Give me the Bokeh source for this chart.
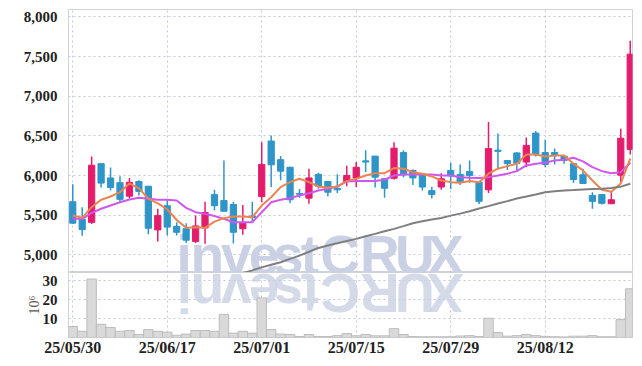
import numpy as np
from bokeh.plotting import figure
from bokeh.models import Range1d, FixedTicker, NumeralTickFormatter, ColumnDataSource
from bokeh.core.properties import value
from bokeh.layouts import column
from bokeh.embed import file_html
from bokeh.resources import INLINE

# ---------------- data ----------------
dates = ["25/05/30", "25/06/02", "25/06/04", "25/06/05", "25/06/09", "25/06/10",
         "25/06/11", "25/06/12", "25/06/13", "25/06/16", "25/06/17", "25/06/18",
         "25/06/19", "25/06/20", "25/06/23", "25/06/24", "25/06/25", "25/06/26",
         "25/06/27", "25/06/30", "25/07/01", "25/07/02", "25/07/03", "25/07/04",
         "25/07/07", "25/07/08", "25/07/09", "25/07/10", "25/07/11", "25/07/14",
         "25/07/15", "25/07/16", "25/07/17", "25/07/18", "25/07/21", "25/07/22",
         "25/07/23", "25/07/24", "25/07/25", "25/07/28", "25/07/29", "25/07/30",
         "25/07/31", "25/08/01", "25/08/04", "25/08/05", "25/08/06", "25/08/07",
         "25/08/08", "25/08/11", "25/08/12", "25/08/13", "25/08/14", "25/08/18",
         "25/08/19", "25/08/20", "25/08/21", "25/08/22", "25/08/25", "25/08/26"]

opens = [5670, 5450, 5410, 6150, 5970, 5910, 5740, 5925, 5865, 5315,
         5620, 5360, 5330, 5170, 5340, 5760, 5685, 5635, 5330, 5490,
         5735, 6435, 6200, 6105, 5775, 5715, 6015, 5925, 5840, 5925,
         5970, 6185, 6245, 5960, 5965, 6290, 6065, 6000, 5810, 5855,
         6065, 6015, 6050, 5915, 5820, 6320, 6190, 6285, 6170, 6535,
         6290, 6290, 6245, 6150, 6010, 5750, 5760, 5645, 6005, 6330]
highs = [5890, 5600, 6240, 6150, 6100, 5990, 5970, 5940, 5870, 5580,
         5690, 5410, 5400, 5495, 5670, 5820, 6190, 5670, 5630, 5670,
         6420, 6505, 6245, 6110, 5830, 6085, 6035, 5930, 6015, 6125,
         6170, 6320, 6245, 5965, 6420, 6320, 6075, 6005, 5860, 6030,
         6160, 6140, 6190, 5920, 6675, 6530, 6195, 6295, 6480, 6560,
         6450, 6340, 6250, 6155, 6085, 5790, 5765, 5800, 6590, 7700]
lows = [5390, 5240, 5390, 5850, 5810, 5665, 5710, 5750, 5260, 5170,
        5245, 5245, 5150, 5150, 5140, 5560, 5550, 5145, 5255, 5410,
        5665, 5855, 5940, 5655, 5720, 5645, 5835, 5735, 5780, 5865,
        5855, 6045, 5850, 5720, 5950, 5980, 5880, 5810, 5710, 5820,
        5830, 5880, 5910, 5640, 5780, 6095, 6070, 6045, 6105, 6240,
        6105, 6140, 6150, 5910, 5900, 5580, 5635, 5645, 5915, 6265]
closes = [5400, 5320, 6130, 5905, 5850, 5700, 5915, 5800, 5335, 5495,
          5350, 5285, 5185, 5365, 5535, 5620, 5550, 5285, 5400, 5470,
          6140, 6135, 6055, 5695, 5765, 5970, 5865, 5790, 5820, 6000,
          6105, 6170, 5980, 5840, 6345, 6010, 5970, 5855, 5760, 5960,
          5995, 5915, 6000, 5675, 6340, 6305, 6150, 6155, 6380, 6260,
          6140, 6265, 6190, 5950, 5900, 5675, 5650, 5695, 6470, 7530]

volume_mil = [5.8, 3.3, 31.0, 7.0, 5.3, 3.3, 3.7, 1.6, 4.2, 3.3,
              2.8, 1.2, 1.8, 3.7, 3.7, 3.3, 12.3, 2.3, 3.3, 2.3,
              21.0, 4.2, 1.8, 1.6, 0.5, 1.6, 0.5, 0.5, 1.0, 2.1,
              0.9, 1.6, 0.9, 0.9, 4.7, 1.6, 0.5, 0.4, 0.4, 0.4,
              0.4, 0.8, 1.0, 0.5, 10.2, 2.6, 0.7, 1.0, 1.6, 1.0,
              0.6, 0.4, 0.3, 0.7, 0.7, 1.0, 0.4, 0.4, 9.5, 25.8]

ma_short = [5496, 5467, 5601, 5694, 5736, 5790, 5900, 5838, 5710, 5648,
            5575, 5440, 5341, 5349, 5341, 5420, 5463, 5484, 5484, 5475,
            5622, 5727, 5854, 5917, 5960, 5917, 5862, 5846, 5862, 5930,
            5960, 6001, 6030, 6030, 6094, 6086, 6043, 6023, 5989, 5938,
            5917, 5909, 5930, 5917, 6023, 6086, 6119, 6149, 6266, 6266,
            6241, 6254, 6254, 6149, 6065, 5938, 5821, 5795, 5900, 6215]
ma_mid = [5454, 5454, 5530, 5581, 5622, 5664, 5698, 5720, 5707, 5694,
          5694, 5686, 5593, 5538, 5517, 5490, 5454, 5412, 5412, 5412,
          5538, 5664, 5694, 5715, 5749, 5778, 5812, 5833, 5862, 5926,
          5930, 5930, 5930, 5947, 6001, 6014, 6014, 6014, 6014, 6001,
          6001, 5980, 5972, 5968, 5980, 6001, 6023, 6056, 6128, 6149,
          6162, 6191, 6199, 6225, 6178, 6106, 6056, 6030, 6043, 6162]
ma_long_first = 16
ma_long = [4700, 4735, 4770, 4805, 4843, 4875, 4907, 4950, 4991, 5040,
           5088, 5118, 5147, 5175, 5202, 5234, 5265, 5297, 5328, 5363,
           5399, 5425, 5445, 5465, 5495, 5520, 5550, 5585, 5615, 5648,
           5678, 5710, 5735, 5762, 5790, 5802, 5812, 5818, 5825, 5829,
           5833, 5843, 5860, 5896]

price_ticks = [5000, 5500, 6000, 6500, 7000, 7500, 8000]
volume_ticks = [10, 20, 30]
date_tick_idx = [0, 10, 20, 30, 40, 50]
volume_unit_label = "10\u2076"
watermark = "investCRUX"

# ---------------- styles ----------------
UP = "#e31c6c"
DOWN = "#2f95c8"
GRID = "#c3c8da"
BORDER = "#cfd2db"
LABEL = "#222222"
FONT = "Liberation Sans Narrow"
WM = "#cbd1e4"

idx = np.arange(len(closes))
o = np.array(opens); c = np.array(closes)
colors = [UP if cc >= oo else DOWN for oo, cc in zip(o, c)]
body_top = np.maximum(o, c)
body_bot = np.minimum(o, c)

xr = Range1d(-0.45, 59.24)

def style(fig):
    fig.outline_line_color = BORDER
    fig.outline_line_width = 1
    fig.xgrid.ticker = FixedTicker(ticks=date_tick_idx)
    for g in (fig.xgrid, fig.ygrid):
        g.grid_line_color = GRID
        g.grid_line_dash = "2 3"
        g.grid_line_width = 1
    for ax in fig.yaxis:
        ax.axis_line_color = None
        ax.major_tick_line_color = None
        ax.minor_tick_line_color = None
        ax.major_label_text_font = FONT
        ax.major_label_text_font_style = "bold"
        ax.major_label_text_font_size = "15px"
        ax.major_label_text_color = LABEL
        ax.major_label_standoff = 5

p = figure(width=642, height=272, x_range=xr, y_range=Range1d(4778, 8093),
           output_backend="svg", toolbar_location=None, tools="",
           min_border_left=68, min_border_right=10, min_border_top=9, min_border_bottom=0)
style(p)
p.xaxis.visible = False
p.yaxis.ticker = FixedTicker(ticks=price_ticks)
p.yaxis.formatter = NumeralTickFormatter(format="0,0")

# watermark (upright), drawn first so the data sits on top of it
wm_x = [11.8, 14.25, 17.3, 20.25, 22.8, 25.1, 28.3, 32.5, 36.2, 39.45]
wm_src = ColumnDataSource(dict(x=wm_x, y=[5000] * len(wm_x), t=list(watermark)))
p.text(x="x", y="y", text="t", source=wm_src, text_align="center", text_baseline="middle",
       text_font=value("Liberation Sans"), text_font_style="bold", text_font_size="55px",
       text_color=WM)

p.segment(idx, lows, idx, highs, color=colors, line_width=1.5)
p.vbar(x=idx, top=body_top, bottom=body_bot, width=0.66, fill_color=colors, line_color=colors, line_width=1)
p.line(idx, ma_mid, line_color="#cf57ee", line_width=2)
p.line(idx, ma_short, line_color="#ec8450", line_width=2)
p.line(np.arange(ma_long_first, ma_long_first + len(ma_long)), ma_long, line_color="#7f7f7f", line_width=2)

v = figure(width=642, height=94, x_range=xr, y_range=Range1d(0, 34.45),
           output_backend="svg", toolbar_location=None, tools="",
           min_border_left=68, min_border_right=10, min_border_top=0, min_border_bottom=29)
style(v)
v.yaxis.ticker = FixedTicker(ticks=volume_ticks)
v.yaxis.axis_label = volume_unit_label
v.yaxis.axis_label_text_font = "Liberation Serif"
v.yaxis.axis_label_text_font_style = "normal"
v.yaxis.axis_label_text_font_size = "14px"
v.yaxis.axis_label_text_color = "#555555"
v.yaxis.axis_label_standoff = -2
v.xaxis.ticker = FixedTicker(ticks=date_tick_idx)
v.xaxis.major_label_overrides = {i: dates[i] for i in date_tick_idx}
v.xaxis.axis_line_color = None
v.xaxis.major_tick_line_color = None
v.xaxis.minor_tick_line_color = None
v.xaxis.major_label_text_font = FONT
v.xaxis.major_label_text_font_style = "bold"
v.xaxis.major_label_text_font_size = "16px"
v.xaxis.major_label_text_color = LABEL
v.xaxis.major_label_standoff = -5

# watermark reflection, one glyph per letter turned upside down
wm_src2 = ColumnDataSource(dict(x=wm_x, y=[23.4] * len(wm_x), t=list(watermark)))
v.text(x="x", y="y", text="t", source=wm_src2, angle=np.pi, text_align="center",
       text_baseline="middle", text_font=value("Liberation Sans"), text_font_style="bold",
       text_font_size="55px", text_color=WM, text_alpha=0.8)

v.vbar(x=idx, top=volume_mil, bottom=0, width=1.0, fill_color="#d9d9d9", line_color="#bdbdbd", line_width=1)

layout = column(p, v, spacing=0)
open("out.html", "w").write(file_html(layout, INLINE))
